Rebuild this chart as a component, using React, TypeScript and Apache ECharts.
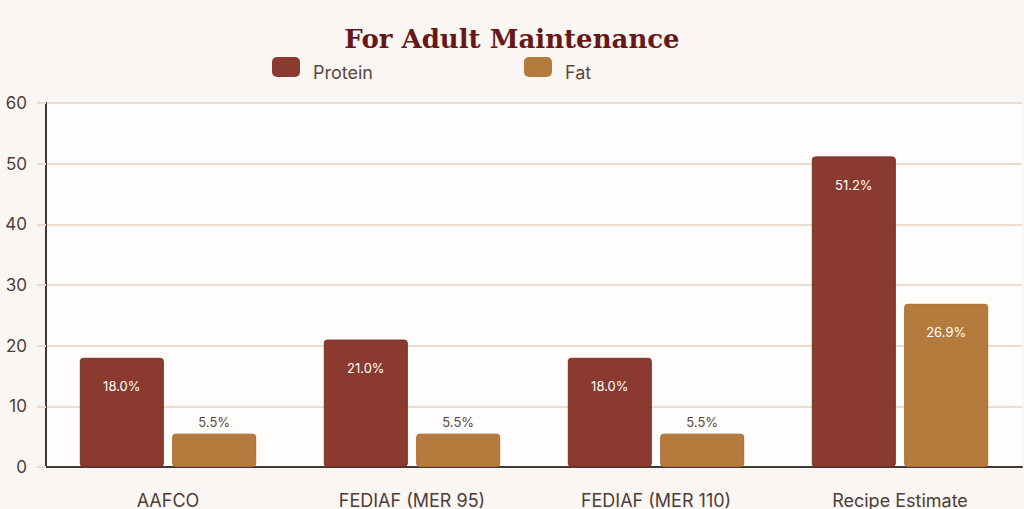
import { useEffect, useRef } from 'react';
import * as echarts from 'echarts';

const categories = ['AAFCO', 'FEDIAF (MER 95)', 'FEDIAF (MER 110)', 'Recipe Estimate'];
const proteinValues = [18.0, 21.0, 18.0, 51.2];
const fatValues = [5.5, 5.5, 5.5, 26.9];
const yTicks = [0, 10, 20, 30, 40, 50, 60];

const proteinColor = '#8a3a2f';
const fatColor = '#b57b3c';
const textColor = '#4e3d38';
const gridColor = '#ecdcd0';
const axisColor = '#4a3530';

export default function App() {
  const chartRef = useRef<HTMLDivElement>(null);

  useEffect(() => {
    document.body.style.margin = '0';
    document.body.style.background = '#faf6f3';
    if (!chartRef.current) return;
    const chart = echarts.init(chartRef.current, undefined, { renderer: 'svg' });

    // small bars get their label above, tall bars inside
    const makeData = (values: number[]) =>
      values.map((v) => ({
        value: v,
        label:
          v < 10
            ? { position: 'top', distance: 5, color: '#5a4742' }
            : { position: 'insideTop', distance: 22, color: '#ffffff' },
      }));

    const option: echarts.EChartsOption = {
      animation: false,
      backgroundColor: '#faf6f3',
      title: {
        text: 'For Adult Maintenance',
        left: 'center',
        top: 21,
        textStyle: {
          fontFamily: 'DejaVu Serif',
          fontWeight: 'bold',
          fontSize: 26,
          color: '#671717',
        },
      },
      legend: {
        left: 267,
        top: 52,
        itemWidth: 28,
        itemHeight: 20,
        itemGap: 151,
        icon: 'roundRect',
        itemStyle: { borderWidth: 0 },
        formatter: '{t|{name}}',
        textStyle: {
          fontFamily: 'Inter',
          fontSize: 18,
          color: '#5a4742',
          rich: {
            t: {
              fontFamily: 'Inter',
              fontSize: 18,
              color: '#5a4742',
              padding: [11, 0, 0, 8],
            },
          },
        },
        data: ['Protein', 'Fat'],
      },
      grid: {
        left: 46,
        right: 2,
        top: 103,
        bottom: 42,
        show: true,
        backgroundColor: '#fffdfc',
        borderWidth: 0,
      },
      xAxis: {
        type: 'category',
        data: categories,
        axisLine: { lineStyle: { color: axisColor, width: 2 } },
        axisTick: { show: false },
        axisLabel: {
          fontFamily: 'Inter',
          fontSize: 18,
          color: textColor,
          margin: 24,
        },
      },
      yAxis: {
        type: 'value',
        min: yTicks[0],
        max: yTicks[yTicks.length - 1],
        interval: 10,
        axisLine: { show: true, lineStyle: { color: axisColor, width: 2 } },
        axisTick: { show: true, length: 9, lineStyle: { color: gridColor, width: 2 } },
        axisLabel: {
          fontFamily: 'Inter',
          fontSize: 17,
          color: textColor,
          margin: 19,
        },
        splitLine: { lineStyle: { color: gridColor, width: 2 } },
      },
      series: [
        {
          name: 'Protein',
          type: 'bar',
          data: makeData(proteinValues),
          barWidth: 84,
          barGap: '10%',
          itemStyle: {
            color: proteinColor,
            borderColor: '#7a2f25',
            borderWidth: 1,
            borderRadius: 3,
          },
          label: {
            show: true,
            formatter: (p: any) => `${Number(p.value).toFixed(1)}%`,
            fontFamily: 'Inter',
            fontSize: 13,
          },
        },
        {
          name: 'Fat',
          type: 'bar',
          data: makeData(fatValues),
          barWidth: 84,
          itemStyle: {
            color: fatColor,
            borderColor: '#a86c2e',
            borderWidth: 1,
            borderRadius: 3,
          },
          label: {
            show: true,
            formatter: (p: any) => `${Number(p.value).toFixed(1)}%`,
            fontFamily: 'Inter',
            fontSize: 13,
          },
        },
      ],
    };

    chart.setOption(option);
    const handleResize = () => chart.resize();
    window.addEventListener('resize', handleResize);
    return () => {
      window.removeEventListener('resize', handleResize);
      chart.dispose();
    };
  }, []);

  return <div ref={chartRef} style={{ width: '100%', height: '509px' }} />;
}
